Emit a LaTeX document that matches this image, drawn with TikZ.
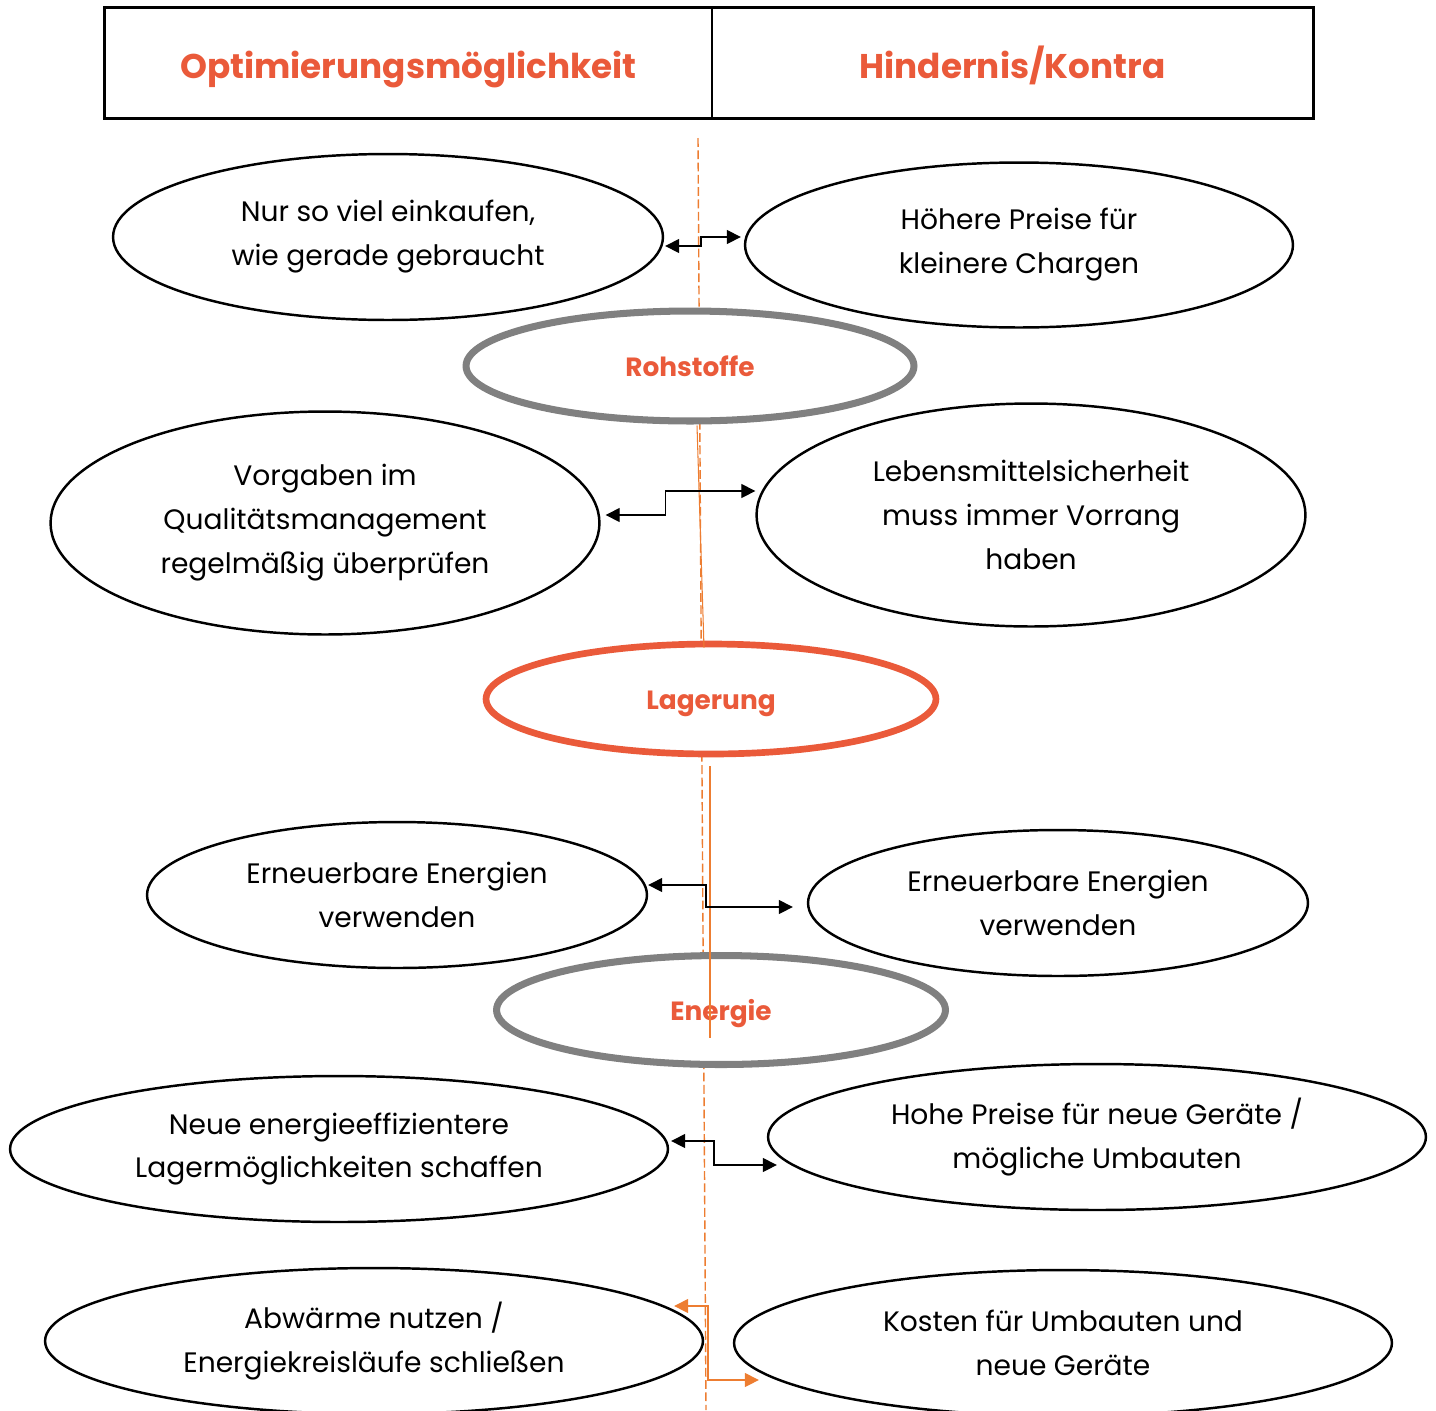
\documentclass[tikz,border=0pt]{standalone}
\usepackage{fontspec}
\setmainfont{Poppins}
\usetikzlibrary{shapes.geometric,arrows.meta,calc}
\definecolor{titleor}{HTML}{EA5A3A}
\definecolor{lineor}{HTML}{ED7D31}
\definecolor{greyb}{HTML}{808080}
\begin{document}
\begin{tikzpicture}[x=0.02cm,y=-0.02cm,
  bubble/.style={ellipse,draw=black,line width=1.4pt,fill=white,inner sep=0pt,align=center,
    font=\fontsize{16}{25}\selectfont},
  topic/.style={ellipse,fill=white,inner sep=0pt,align=center,text=titleor,
    text height=12.5pt,text depth=0pt,
    font=\fontsize{15}{18}\selectfont\bfseries},
  hdr/.style={draw=black,line width=0.8pt,minimum height=2.2cm,inner sep=0pt,text=titleor,
    text height=17.5pt,text depth=0pt,
    font=\fontsize{19.5}{22}\selectfont\bfseries},
  dbl/.style={draw=black,line width=0.8pt,{Triangle[length=8pt,width=8pt]}-{Triangle[length=8pt,width=8pt]}},
  dblor/.style={draw=lineor,line width=0.8pt,{Triangle[length=8pt,width=8pt]}-{Triangle[length=8pt,width=8pt]}},
  thinor/.style={draw=lineor,line width=0.6pt},
  midline/.style={draw=lineor,line width=0.8pt,dash pattern=on 5pt off 2pt}]
\useasboundingbox (0,0) rectangle (1436,1410);
% header
\node[hdr,minimum width=12.14cm] (h1) at (408.5,63) {Optimierungsmöglichkeit};
\node[hdr,minimum width=12.02cm] (h2) at (1012.5,63) {Hindernis/Kontra};
\draw[line width=1.6pt] (h1.north west) rectangle (h2.south east);
% dashed centre line
\coordinate (dtop) at (698,138);
\coordinate (dbot) at (706,1410);
\draw[midline] (dtop) -- (dbot);
% bubbles
\node[bubble,minimum width=11cm,minimum height=3.32cm] (e1) at (388,237) {Nur so viel einkaufen,\\wie gerade gebraucht};
\node[bubble,minimum width=10.96cm,minimum height=3.3cm] (e2) at (1019,245) {Höhere Preise für\\kleinere Chargen};
\node[topic,draw=greyb,line width=4pt,minimum width=8.96cm,minimum height=2.2cm] (roh) at (690,366) {Rohstoffe};
\node[bubble,minimum width=10.98cm,minimum height=4.46cm] (e3) at (325,523) {Vorgaben im\\Qualitätsmanagement\\regelmäßig überprüfen};
\node[bubble,minimum width=10.98cm,minimum height=4.46cm] (e4) at (1031,515) {Lebensmittelsicherheit\\muss immer Vorrang\\haben};
\node[topic,draw=titleor,line width=3.8pt,minimum width=9cm,minimum height=2.2cm] (lag) at (711,699) {Lagerung};
\node[bubble,minimum width=10cm,minimum height=2.92cm] (e5) at (397,895) {Erneuerbare Energien\\verwenden};
\node[bubble,minimum width=10cm,minimum height=2.92cm] (e6) at (1058,903) {Erneuerbare Energien\\verwenden};
\node[topic,draw=greyb,line width=4pt,minimum width=8.98cm,minimum height=2.18cm] (ener) at (721,1010) {Energie};
\node[bubble,minimum width=13.16cm,minimum height=2.92cm] (e7) at (339,1149) {Neue energieeffizientere\\Lagermöglichkeiten schaffen};
\node[bubble,minimum width=13.16cm,minimum height=2.92cm] (e8) at (1097,1137) {Hohe Preise für neue Geräte /\\mögliche Umbauten};
\node[bubble,minimum width=13.16cm,minimum height=2.92cm] (e9) at (374,1341) {Abwärme nutzen /\\Energiekreisläufe schließen};
\node[bubble,minimum width=13.16cm,minimum height=2.92cm] (e10) at (1063,1343) {Kosten für Umbauten und\\neue Geräte};
% thin orange lines
\draw[thinor] ($(roh.south)+(7,1)$) -- ($(lag.north)+(-7,7)$);
\draw[thinor] ($(lag.south)+(-1,9)$) -- ($(ener.center)+(-11,28)$);
% connectors
\draw[dbl] ($(e1.east)+(1,9)$) -| ($(e2.west)+(-43,-8)$) -- ($(e2.west)+(-3,-8)$);
\draw[dbl] ($(e3.east)+(5,-8)$) -- ++(60,0) |- ($(e4.west)+(0,-24)$);
\draw[dbl] ($(e5.east)+(0,-10)$) -- ++(58,0) |- ($(e6.west)+(-14,4)$);
\draw[dbl] ($(e7.east)+(2,-8)$) -- ++(43,0) |- ($(e8.west)+(10,28)$);
\draw[dblor] ($(e9.east)+(-30,-35)$) -- ++(34,0) |- ($(e10.west)+(26,37)$);
\end{tikzpicture}
\end{document}
